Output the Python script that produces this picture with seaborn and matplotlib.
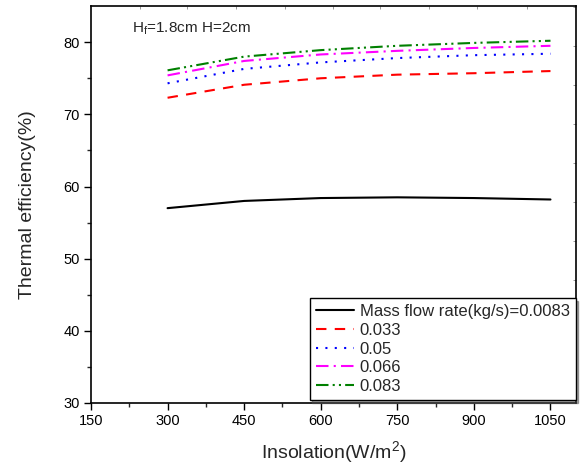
import matplotlib
matplotlib.use("Agg")
import matplotlib.pyplot as plt
import seaborn as sns
import pandas as pd
import numpy as np

insolation = [300, 450, 600, 750, 900, 1050]
eff_0083 = [57.0, 58.0, 58.4, 58.5, 58.4, 58.2]
eff_033 = [72.3, 74.1, 75.0, 75.5, 75.7, 76.0]
eff_05 = [74.3, 76.3, 77.2, 77.8, 78.2, 78.4]
eff_066 = [75.4, 77.4, 78.3, 78.8, 79.2, 79.5]
eff_083 = [76.1, 78.0, 78.9, 79.5, 79.9, 80.2]
labels = ["Mass flow rate(kg/s)=0.0083", "0.033", "0.05", "0.066", "0.083"]
series = [eff_0083, eff_033, eff_05, eff_066, eff_083]
colors = ["black", "#ff0000", "#0000ff", "#ff00ff", "#008000"]
dash_styles = ["", (5, 4), (1, 3.5), (6, 2.5, 1, 2.5), (6, 2, 1, 2, 1, 2)]
xticks = [150, 300, 450, 600, 750, 900, 1050]
yticks = [30, 40, 50, 60, 70, 80]

rows = []
for lab, vals in zip(labels, series):
    for x, v in zip(insolation, vals):
        rows.append({"Insolation": x, "Efficiency": v, "Series": lab})
df = pd.DataFrame(rows)

sns.set_theme(style="ticks")
plt.rcParams["font.family"] = ["Liberation Sans", "DejaVu Sans"]
plt.rcParams["mathtext.fontset"] = "custom"
plt.rcParams["mathtext.rm"] = "Liberation Sans"
plt.rcParams["mathtext.it"] = "Liberation Sans"

fig = plt.figure(figsize=(5.81, 4.70), dpi=100)
ax = fig.add_axes([0.1566, 0.1426, 0.8348, 0.8444])

sns.lineplot(data=df, x="Insolation", y="Efficiency", hue="Series", style="Series",
             hue_order=labels, style_order=labels,
             palette=dict(zip(labels, colors)), dashes=dict(zip(labels, dash_styles)),
             linewidth=1.5, ax=ax, legend=True)

ax.set_xlim(150, 1100)
ax.set_ylim(30, 85)
ax.set_xticks(xticks)
ax.set_yticks(yticks)
ax.set_xticks(np.arange(225, 1100, 150), minor=True)
ax.set_yticks(np.arange(35, 85, 10), minor=True)
ax.tick_params(axis="both", which="major", direction="out", length=5, width=1,
               labelsize=10.5, colors="black", pad=3)
ax.tick_params(axis="both", which="minor", direction="out", length=3, width=1)
for s in ax.spines.values():
    s.set_linewidth(1.2)
    s.set_color("black")

# faint ticks on top and right axes
top_px = [140, 188, 237, 286, 334, 382, 431, 479, 529]
top_vals = [150 + (p - 91) * 150 / 77 for p in top_px]
secx = ax.secondary_xaxis("top")
secx.set_xticks(top_vals)
secx.set_xticklabels([])
secx.tick_params(direction="in", length=2, width=0.6, colors="#888888")
secx.spines["top"].set_visible(False)
right_vals = [84.85 - 5.4 * k for k in range(10)]
secy = ax.secondary_yaxis("right")
secy.set_yticks(right_vals)
secy.set_yticklabels([])
secy.tick_params(direction="in", length=2, width=0.6, colors="#888888")
secy.spines["right"].set_visible(False)

ax.set_xlabel("Insolation(W/m$^2$)", fontsize=14, labelpad=8)
ax.set_ylabel("Thermal efficiency(%)", fontsize=14, labelpad=20)

ax.text(0.0845, 0.932, r"H$_\mathregular{f}$=1.8cm H=2cm", transform=ax.transAxes,
        fontsize=11, va="baseline", ha="left")

leg = ax.legend(loc="lower right", bbox_to_anchor=(0.999, 0.008), borderaxespad=0,
                frameon=True, fancybox=False, shadow=True, fontsize=12,
                handlelength=2.3, handletextpad=0.35, labelspacing=0.22,
                borderpad=0.35)
leg.get_frame().set_edgecolor("black")
leg.get_frame().set_linewidth(1.0)

fig.savefig("out.png", dpi=100)
